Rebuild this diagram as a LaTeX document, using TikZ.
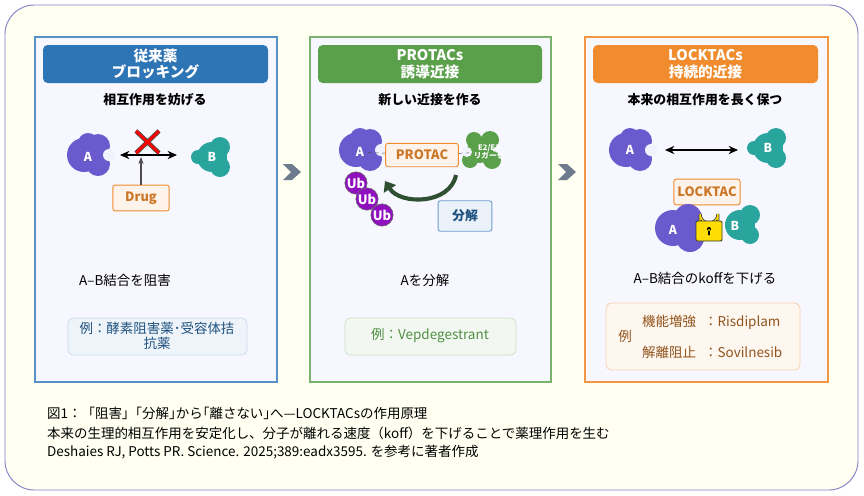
\documentclass[tikz,border=0pt]{standalone}
\usepackage{fontspec}
\setmainfont{Noto Sans CJK JP}
\usetikzlibrary{arrows.meta,shapes.geometric}
\definecolor{bgc}{HTML}{FFFFF2}
\definecolor{bluec}{HTML}{2E75B6}
\definecolor{greenc}{HTML}{5AA04A}
\definecolor{orangec}{HTML}{F08C2E}
\definecolor{purp}{HTML}{6A5ACD}
\definecolor{teal}{HTML}{2AA59E}
\definecolor{ubc}{HTML}{9010C0}
\definecolor{darkg}{HTML}{2E5030}
\definecolor{chevc}{HTML}{6E7B8E}
\tikzset{
 panel/.style={draw=#1,line width=1pt,fill=white!97!blue},
 hdr/.style={fill=#1,rounded corners=4pt,draw=none},
 hdrtext/.style={text=white,font=\bfseries\fontsize{12.5}{14}\selectfont,align=center},
 sub/.style={font=\bfseries\fontsize{11}{12}\selectfont},
 plain/.style={font=\fontsize{11.5}{13}\selectfont},
 lbl/.style={text=white,font=\bfseries\fontsize{10.5}{11}\selectfont},
 obox/.style={draw=orangec,fill=orangec!10,rounded corners=2pt,line width=0.8pt,text=orangec!85!black,font=\bfseries\fontsize{11}{12}\selectfont,minimum height=#1,inner xsep=3pt},
 chev/.style={fill=chevc,draw=none},
 ex/.style={rounded corners=5pt,line width=0.7pt},
 dbl/.style={{Stealth[length=8pt,width=7pt]}-{Stealth[length=8pt,width=7pt]},line width=1pt},
 pics/blobA/.style={code={
   \fill[purp] (-6,0) circle (17) (8,-9) circle (12) (8,9) circle (12) (-2,-12) circle (10);
   \fill[white!95!blue] (19,0) circle (6);}},
 pics/blobB/.style={code={
   \fill[teal] (0,0) circle (15) (8,-10) circle (10) (8,10) circle (10) (-14,0) circle (7);}},
}
\begin{document}
\begin{tikzpicture}[x=0.03cm,y=-0.03cm]
\useasboundingbox (0,0) rectangle (864,495);
\fill[white] (0,0) rectangle (864,495);
\draw[fill=bgc,draw=gray!60!blue!70,line width=0.8pt,rounded corners=25pt] (5,5) rectangle (858,490);
% panels
\draw[panel=bluec!80] (35,37) rectangle (277,382);
\draw[panel=greenc!80] (310,37) rectangle (551,382);
\draw[panel=orangec!90] (585,37) rectangle (828,382);
\fill[hdr=bluec] (43,45) rectangle (268,83);
\fill[hdr=greenc] (318,45) rectangle (542,83);
\fill[hdr=orangec] (593,45) rectangle (818,83);
\node[hdrtext] (h1) at (155.5,64) {従来薬\\ブロッキング};
\node[hdrtext] (h2) at (430,64) {PROTACs\\誘導近接};
\node[hdrtext] (h3) at (705.5,64) {LOCKTACs\\持続的近接};
\node[sub] (s1) at (155,100) {相互作用を妨げる};
\node[sub] (s2) at (430,100) {新しい近接を作る};
\node[sub] (s3) at (705,100) {本来の相互作用を長く保つ};
% chevrons
\fill[chev] (283,164) -- (292,164) -- (301,172) -- (292,180) -- (283,180) -- (291,172) -- cycle;
\fill[chev] (558,164) -- (567,164) -- (576,172) -- (567,180) -- (558,180) -- (566,172) -- cycle;
% panel 1
\pic at (90,155) {blobA};
\pic at (212,157) {blobB};
\node[lbl] (a1) at (88,157) {A};
\node[lbl] (b1) at (212,157) {B};
\coordinate (l1) at (120,155);
\coordinate (r1) at (177,155);
\draw[dbl] (l1) -- (r1);
\node[obox=22pt,minimum width=48pt] (drug) at (141,198) {Drug};
\coordinate (dt) at (141,157);
\draw[-{Stealth[length=6pt]},gray!60!black,line width=0.9pt] (drug) -- (dt);
\draw[line width=3.8pt,black!70] (136,131) -- (159,153) (159,131) -- (136,153);
\draw[line width=2.4pt,red] (136,131) -- (159,153) (159,131) -- (136,153);
\node[plain] (t1) at (125,280) {A–B結合を阻害};
\draw[ex,draw=bluec!25,fill=bluec!8] (68,318) rectangle (247,355);
\node[plain,text=bluec!70!black,align=center] (e1) at (157,336) {例：酵素阻害薬･受容体拮\\抗薬};
% panel 2
\pic at (362,150) {blobA};
\fill[greenc] (480,150) circle (13) (490,140) circle (9) (492,160) circle (9) (470,160) circle (8) (474,140) circle (8);
\fill[white!95!blue] (467,152) circle (5);
\node[lbl] (a2) at (360,152) {A};
\node[text=white,font=\bfseries\fontsize{6.5}{7}\selectfont,align=center,inner sep=1pt] (e23) at (489,152) {E2/E3\\リガーゼ};
\node[obox=20pt,minimum width=62pt] (protac) at (422,155) {PROTAC};
\draw[dashed,black!70] (a2) -- (protac);
\draw[dashed,black!70] (protac) -- (e23);
\foreach \n/\x/\y in {u1/356/183, u2/367/199, u3/382/215}{
 \node[circle,fill=ubc,draw=black!60,line width=0.5pt,minimum size=19pt,inner sep=0pt,text=white,font=\bfseries\fontsize{11}{11}\selectfont] (\n) at (\x,\y) {Ub};}
\coordinate (cs) at (456,175);
\coordinate (ce) at (385,181);
\draw[darkg,line width=3.5pt,-{Triangle[length=8pt,width=12pt]}] (cs) .. controls (450,205) and (400,205) .. (ce);
\node[draw=bluec!70,fill=bluec!10,rounded corners=2pt,line width=0.8pt,minimum width=46pt,minimum height=26pt,text=bluec!70!black,font=\bfseries\fontsize{11}{12}\selectfont] (bunkai) at (465,216) {分解};
\node[plain] (t2) at (425,280) {Aを分解};
\draw[ex,draw=greenc!30,fill=greenc!8] (345,318) rectangle (516,355);
\node[plain,text=greenc!90!black] (e2) at (430,336) {例：Vepdegestrant};
% panel 3
\pic at (632,150) {blobA};
\pic at (768,148) {blobB};
\node[lbl] (a3) at (630,150) {A};
\node[lbl] (b3) at (768,148) {B};
\coordinate (l3) at (665,150);
\coordinate (r3) at (738,150);
\draw[dbl] (l3) -- (r3);
\node[obox=22pt,minimum width=56pt] (lock) at (707,192) {LOCKTAC};
\fill[purp] (673,228) circle (18) (688,218) circle (14) (690,238) circle (14);
\fill[teal] (740,225) circle (15) (750,215) circle (10) (750,235) circle (9);
\node[lbl] (a4) at (673,230) {A};
\node[lbl] (b4) at (735,226) {B};
\draw[line width=2.5pt,black!80] (700,222) -- (700,214) arc (180:0:9) -- (718,222);
\draw[line width=1.2pt,yellow!80!orange] (700,222) -- (700,214) arc (180:0:9) -- (718,222);
\draw[fill=yellow!80!orange,draw=black!80,line width=0.8pt,rounded corners=1pt] (696,221) rectangle (722,241);
\fill[black] (709,229) circle (2) (708.2,229) rectangle (709.8,235);
\node[plain] (t3) at (705,278) {A–B結合のkoffを下げる};
\draw[ex,draw=orangec!40,fill=orangec!7] (606,303) rectangle (800,370);
\node[plain,text=orangec!60!black] (ex3) at (625,336) {例};
\node[plain,text=orangec!60!black,anchor=west] (e3a) at (638,322) {機能増強\hspace{0.6em}：Risdiplam};
\node[plain,text=orangec!60!black,anchor=west] (e3b) at (638,352) {解離阻止\hspace{0.6em}：Sovilnesib};
% caption
\node[plain,anchor=west] (c1) at (43,413) {図1：「阻害」｢分解｣から｢離さない｣へ—LOCKTACsの作用原理};
\node[plain,anchor=west] (c2) at (43,433) {本来の生理的相互作用を安定化し、分子が離れる速度（koff）を下げることで薬理作用を生む};
\node[plain,anchor=west] (c3) at (43,452) {Deshaies RJ, Potts PR. Science. 2025;389:eadx3595. を参考に著者作成};
\end{tikzpicture}
\end{document}
